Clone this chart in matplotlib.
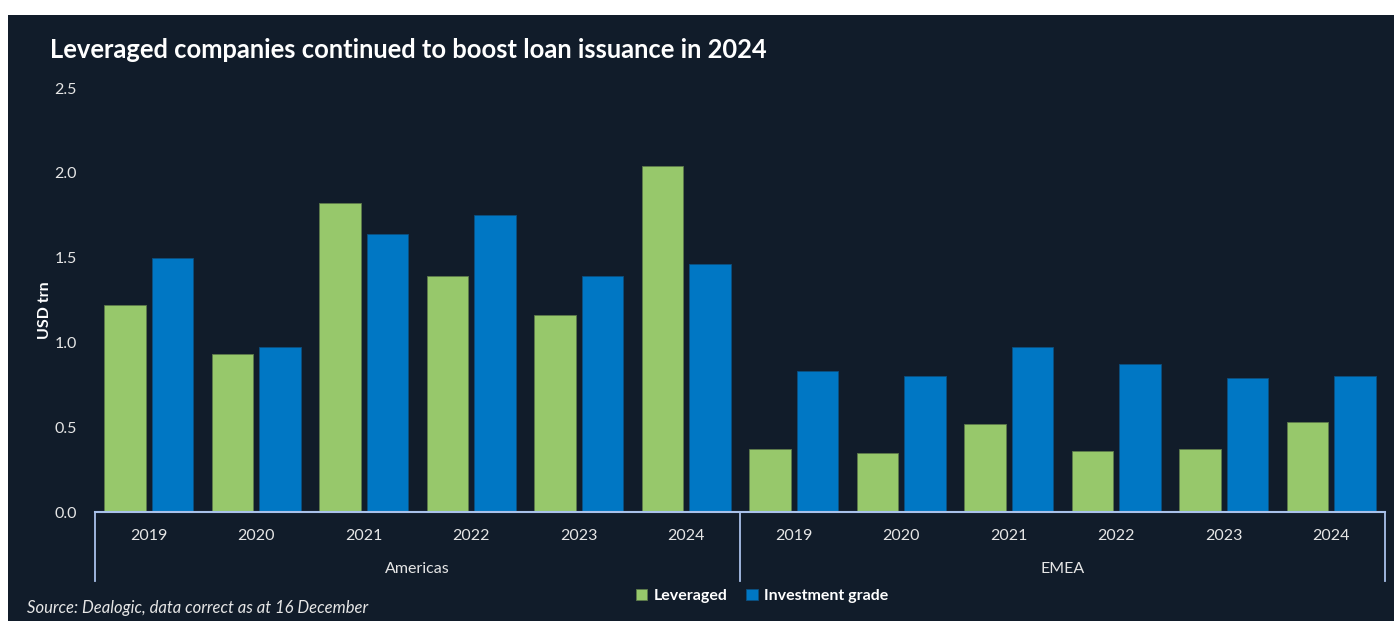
import numpy as np
import matplotlib.pyplot as plt
from matplotlib.patches import Rectangle
import matplotlib.transforms as mtransforms

plt.rcParams["font.family"] = ["Lato", "DejaVu Sans"]

years = ["2019", "2020", "2021", "2022", "2023", "2024"]
regions = ["Americas", "EMEA"]
leveraged = [1.22, 0.93, 1.82, 1.39, 1.16, 2.04,
             0.37, 0.35, 0.52, 0.36, 0.37, 0.53]
inv_grade = [1.50, 0.97, 1.64, 1.75, 1.39, 1.46,
             0.83, 0.80, 0.97, 0.87, 0.79, 0.80]

bg = "#111c2a"
green = "#97c86b"
blue = "#0077c4"
axcol = "#a9c1ea"
txt = "#e6e6e6"

W, H = 1394, 621
fig = plt.figure(figsize=(W/100, H/100), dpi=100)
fig.patch.set_facecolor("white")
fig.patches.append(Rectangle((8/W, 0), 1, 1 - 15/H, transform=fig.transFigure,
                             facecolor=bg, edgecolor="none", zorder=-10))

ax = fig.add_axes([95/W, 1 - 512/H, (1385 - 95)/W, (512 - 88)/H])
ax.patch.set_alpha(0)

x = np.arange(len(leveraged))
bw = 0.385
ax.bar(x - 0.22, leveraged, bw, color=green, edgecolor="#5d7a4a", linewidth=0.6, label="Leveraged")
ax.bar(x + 0.22, inv_grade, bw, color=blue, edgecolor="#0b4f80", linewidth=0.6, label="Investment grade")

ax.set_xlim(-0.5, 11.5)
ax.set_ylim(0, 2.5)
yt = np.arange(0, 2.51, 0.5)
ax.set_yticks(yt)
ax.set_yticklabels([f"{v:.1f}" for v in yt])
ax.set_xticks(x)
ax.set_xticklabels(years * 2)
ax.tick_params(axis="y", length=0, colors=txt, labelsize=11.5, pad=13)
ax.tick_params(axis="x", length=0, colors=txt, labelsize=11.5, pad=12)
for s in ["top", "right", "left"]:
    ax.spines[s].set_visible(False)
ax.spines["bottom"].set_color(axcol)
ax.spines["bottom"].set_linewidth(1.5)

trans = mtransforms.blended_transform_factory(ax.transData, ax.transAxes)
for xv in [-0.5, 5.5, 11.5]:
    ax.plot([xv, xv], [0, -0.162], color=axcol, lw=1.3, transform=trans, clip_on=False)
for i, r in enumerate(regions):
    ax.text(2.5 + 6*i, -0.135, r, transform=trans, ha="center", va="center",
            color=txt, fontsize=11.5)

ax.set_ylabel("USD trn", color="white", fontsize=11.5, fontweight="bold")
ax.yaxis.set_label_coords(52/W, 0.5, transform=fig.transFigure)

fig.text(50/W, 1 - 50/H, "Leveraged companies continued to boost loan issuance in 2024",
         color="white", fontsize=18.4, fontweight="bold", va="center", ha="left")
fig.text(27/W, 1 - 608/H, "Source: Dealogic, data correct as at 16 December",
         color=txt, fontsize=12, style="italic", va="center", ha="left")

leg = fig.legend(loc="center", bbox_to_anchor=(762/W, 1 - 596/H), ncol=2, frameon=False,
                 handlelength=0.7, handleheight=0.7, handletextpad=0.4, columnspacing=1.2,
                 prop={"weight": "bold", "size": 11.5})
for t in leg.get_texts():
    t.set_color("white")

fig.savefig("out.png", dpi=100, facecolor=fig.get_facecolor())
